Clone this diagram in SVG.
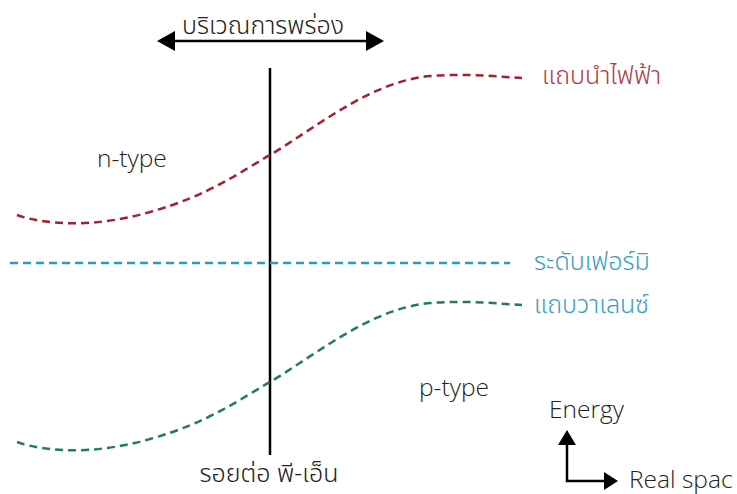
<svg xmlns="http://www.w3.org/2000/svg" width="737" height="494" viewBox="0 0 737 494">
  <style>
    .lbl { font-family: "Noto Sans Thai", "Noto Sans", "Open Sans", sans-serif; font-weight: 300; font-size: 25px; }
    .lat { font-family: "Open Sans", "Noto Sans", sans-serif; font-weight: 300; font-size: 24.5px; fill: #222; }
    .band { fill: none; stroke-width: 2.5; stroke-dasharray: 8 5; }
    .solid { stroke: #000; stroke-width: 2.5; fill: none; }
  </style>
  <rect width="737" height="494" fill="#fff"/>
  <g id="connectors">
    <g id="depletion-arrow">
      <line class="solid" x1="172" y1="41" x2="368" y2="41"/>
      <polygon points="157,41 175,31 175,51" fill="#000"/>
      <polygon points="384,41 366,31 366,51" fill="#000"/>
    </g>
    <line id="junction-line" class="solid" x1="270" y1="68" x2="270" y2="455"/>
    <g id="axes">
      <polyline class="solid" points="567,444 567,481 606,481"/>
      <polygon points="567,430 558,445 576,445" fill="#000"/>
      <polygon points="618,481 604,472 604,490" fill="#000"/>
    </g>
  </g>
  <g id="conduction-band">
    <path class="band" stroke="#a3202e" d="M17,215 C45,225 95,228 150,212 C210,195 240,172 270,155 C320,125 370,82 430,76 C470,73 500,77 522,78"/>
    <text class="lbl" x="542" y="84" fill="#b03848">แถบนำไฟฟ้า</text>
  </g>
  <g id="fermi-level">
    <line class="band" stroke="#2a9cc0" x1="10" y1="263" x2="510" y2="263"/>
    <text class="lbl" x="534" y="270" fill="#3a9ec2">ระดับเฟอร์มิ</text>
  </g>
  <g id="valence-band">
    <path class="band" stroke="#1f7d5e" transform="translate(0,227)" d="M17,215 C45,225 95,228 150,212 C210,195 240,172 270,155 C320,125 370,82 430,76 C470,73 500,77 522,78"/>
    <text class="lbl" x="534" y="313" fill="#3a9ec2">แถบวาเลนซ์</text>
  </g>
  <g id="depletion-label">
    <text class="lbl" x="263" y="34" text-anchor="middle" fill="#222">บริเวณการพร่อง</text>
  </g>
  <g id="junction-label">
    <text class="lbl" x="269" y="482" text-anchor="middle" fill="#222">รอยต่อ พี-เอ็น</text>
  </g>
  <g id="n-type"><text class="lat" x="97" y="167">n-type</text></g>
  <g id="p-type"><text class="lat" x="419" y="396">p-type</text></g>
  <g id="energy"><text class="lat" x="549" y="418">Energy</text></g>
  <g id="real-space"><text class="lat" x="629" y="488">Real spac</text></g>
</svg>
